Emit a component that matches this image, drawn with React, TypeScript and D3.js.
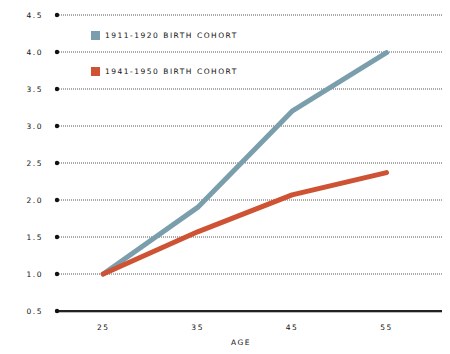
import React from "react";
import * as d3 from "d3";

const ages = [25, 35, 45, 55];
const cohort1911 = [1.0, 1.9, 3.2, 3.99];
const cohort1941 = [1.0, 1.57, 2.07, 2.37];
const yTicks = [0.5, 1.0, 1.5, 2.0, 2.5, 3.0, 3.5, 4.0, 4.5];
const seriesNames = ["1911-1920 BIRTH COHORT", "1941-1950 BIRTH COHORT"];
const colors = ["#7b9ead", "#cd5334"];

export default function App() {
  const W = 450, H = 354;
  const x = d3.scaleLinear().domain([20, 60]).range([56, 433.7]);
  const y = d3.scaleLinear().domain([0.5, 4.5]).range([311, 15]);
  const line = d3.line<number>().x((_, i) => x(ages[i])).y((d) => y(d));
  const font = "DejaVu Sans, sans-serif";
  const series = [cohort1911, cohort1941];
  return (
    <svg width={W} height={H} style={{ position: "absolute", left: 0, top: 0 }}>
      <rect width={W} height={H} fill="#fff" />
      {yTicks.map((t) => (
        <g key={t}>
          {t === 0.5 ? (
            <>
              <line x1={57} x2={442} y1={y(t) + 1.5} y2={y(t) + 1.5} stroke="#bbb" strokeWidth={1} />
              <line x1={57} x2={442} y1={y(t)} y2={y(t)} stroke="#222" strokeWidth={2} />
            </>
          ) : (
            <line x1={57} x2={442} y1={y(t)} y2={y(t)} stroke="#555" strokeWidth={1} strokeDasharray="1 1" />
          )}
          <circle cx={57} cy={y(t)} r={2.2} fill="#111" />
          <text x={43} y={y(t)} dy="0.35em" textAnchor="end" fontSize={7.5} fontFamily={font} letterSpacing={1.5} fill="#111">
            {t.toFixed(1)}
          </text>
        </g>
      ))}
      {ages.map((a) => (
        <text key={a} x={x(a)} y={327} dy="0.35em" textAnchor="middle" fontSize={7.5} fontFamily={font} letterSpacing={1.5} fill="#111">
          {a}
        </text>
      ))}
      <text x={241} y={342} dy="0.35em" textAnchor="middle" fontSize={7.5} fontFamily={font} letterSpacing={1.5} fill="#111">
        AGE
      </text>
      {series.map((s, i) => (
        <path key={i} d={line(s) || ""} fill="none" stroke={colors[i]} strokeWidth={5} strokeLinecap="round" strokeLinejoin="round" />
      ))}
      {seriesNames.map((n, i) => (
        <g key={n}>
          <rect x={91} y={31 + i * 36} width={9} height={9} fill={colors[i]} />
          <text x={105} y={35.5 + i * 36} dy="0.35em" fontSize={7.5} fontFamily={font} letterSpacing={1.5} fill="#111">
            {n}
          </text>
        </g>
      ))}
    </svg>
  );
}
